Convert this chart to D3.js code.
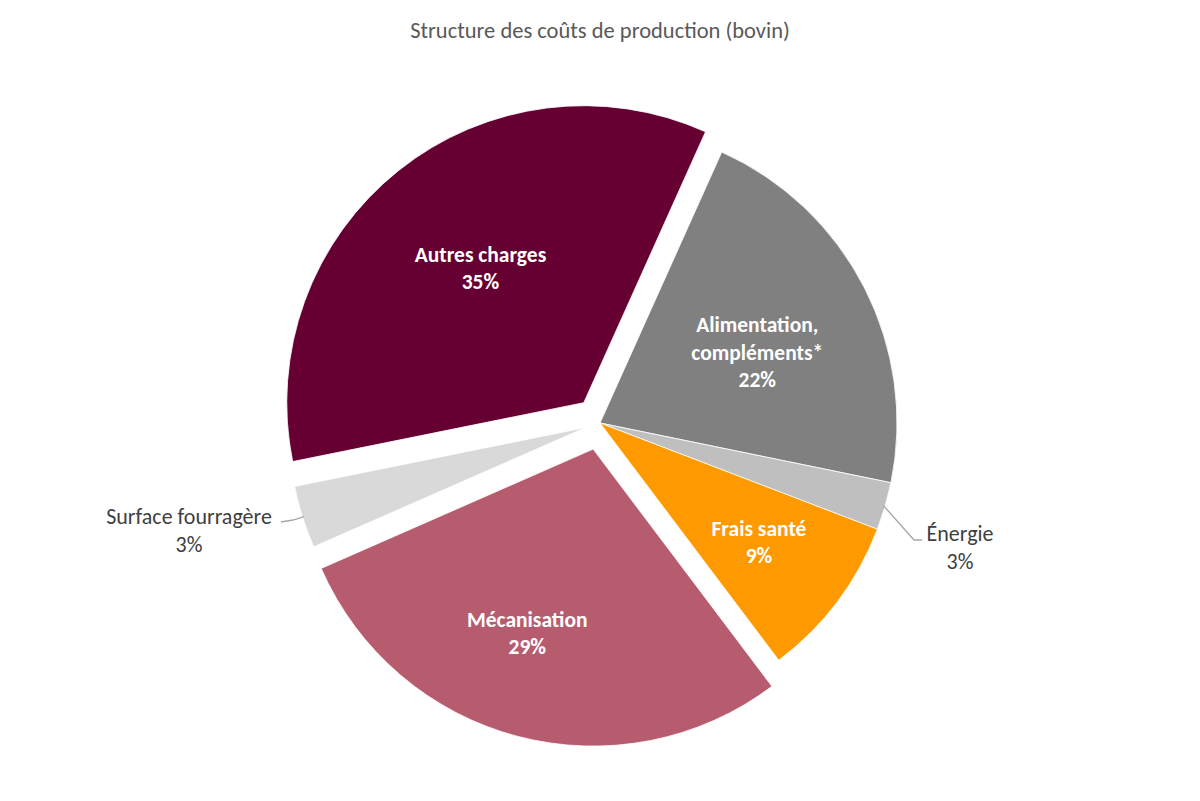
<!DOCTYPE html>
<html><head><meta charset="utf-8">
<script src="https://cdn.jsdelivr.net/npm/d3@7"></script>
<style>body{margin:0;background:#fff}svg{display:block}</style>
</head><body>
<script>
const title = "Structure des coûts de production (bovin)";
const categories = ["Alimentation, compléments*", "Énergie", "Frais santé", "Mécanisation", "Surface fourragère", "Autres charges"];
const labelLines = [["Alimentation,", "compléments*"], ["Énergie"], ["Frais santé"], ["Mécanisation"], ["Surface fourragère"], ["Autres charges"]];
const values = [21.5, 2.6, 8.9, 28.7, 3.4, 34.9];
const pctLabels = ["22%", "3%", "9%", "29%", "3%", "35%"];
const colors = ["#808080", "#BFBFBF", "#FF9900", "#B75C6E", "#D9D9D9", "#660033"];
const explode = [0, 0, 0, 27, 15, 26];
// label layout
const labelInside = [true, false, true, true, false, true];
const labelRad = [0.58, 0, 0.67, 0.66, 0, 0.57];
const labelAng = [3, 0, 0, 5, 0, 1];

const W = 1200, H = 801, cx = 600, cy = 423, R = 297;
const font = "Carlito, Calibri, Lato, 'Open Sans', sans-serif";
const svg = d3.select("body").append("svg").attr("width", W).attr("height", H);
svg.append("rect").attr("width", W).attr("height", H).attr("fill", "#fff");
svg.append("text").attr("x", 600).attr("y", 38).attr("text-anchor", "middle")
  .attr("font-family", font).attr("font-size", 22.5).attr("fill", "#595959").text(title);

const startA = 24.2 * Math.PI / 180;
const pie = d3.pie().sort(null).value(d => d).startAngle(startA).endAngle(startA + 2 * Math.PI);
const arcs = pie(values);
const arc = d3.arc().innerRadius(0).outerRadius(R);
const g = svg.append("g").attr("transform", `translate(${cx},${cy})`);
const off = (d, i) => { const m = (d.startAngle + d.endAngle) / 2; return [explode[i] * Math.sin(m), -explode[i] * Math.cos(m)]; };
g.selectAll("path").data(arcs).join("path")
  .attr("d", arc)
  .attr("transform", (d, i) => { const o = off(d, i); return `translate(${o[0]},${o[1]})`; })
  .attr("fill", (d, i) => colors[i]).attr("stroke", "#fff").attr("stroke-width", 0.8);

arcs.forEach((d, i) => {
  const o = off(d, i);
  const m = (d.startAngle + d.endAngle) / 2;
  if (labelInside[i]) {
    const a = m + labelAng[i] * Math.PI / 180, r = labelRad[i] * R;
    const x = o[0] + r * Math.sin(a), y = o[1] - r * Math.cos(a);
    const lines = labelLines[i].concat([pctLabels[i]]);
    const t = g.append("text").attr("text-anchor", "middle").attr("font-family", font)
      .attr("font-size", 21.5).attr("font-weight", "bold").attr("fill", "#fff");
    lines.forEach((s, k) => t.append("tspan").attr("x", x)
      .attr("y", y + (k - (lines.length - 1) / 2) * 27.5 + 7).text(s));
  }
});

// outside labels with leader lines (points given in page coords)
function outside(i, edgeFrac, pts, lx, ly) {
  const d = arcs[i], o = off(d, i), m = (d.startAngle + d.endAngle) / 2;
  const ex = o[0] + R * edgeFrac * Math.sin(m), ey = o[1] - R * edgeFrac * Math.cos(m);
  const line = [[ex, ey]].concat(pts.map(p => [p[0] - cx, p[1] - cy]));
  g.append("path").attr("d", d3.line()(line)).attr("fill", "none").attr("stroke", "#A6A6A6").attr("stroke-width", 1.3);
  const t = g.append("text").attr("text-anchor", "middle").attr("font-family", font)
    .attr("font-size", 22).attr("fill", "#404040");
  t.append("tspan").attr("x", lx - cx).attr("y", ly - cy).text(labelLines[i][0]);
  t.append("tspan").attr("x", lx - cx).attr("y", ly - cy + 28).text(pctLabels[i]);
}
outside(1, 0.995, [[914, 540], [922, 540]], 960, 541);
outside(4, 0.995, [[293, 520], [281, 522]], 189, 524);
</script>
</body></html>
